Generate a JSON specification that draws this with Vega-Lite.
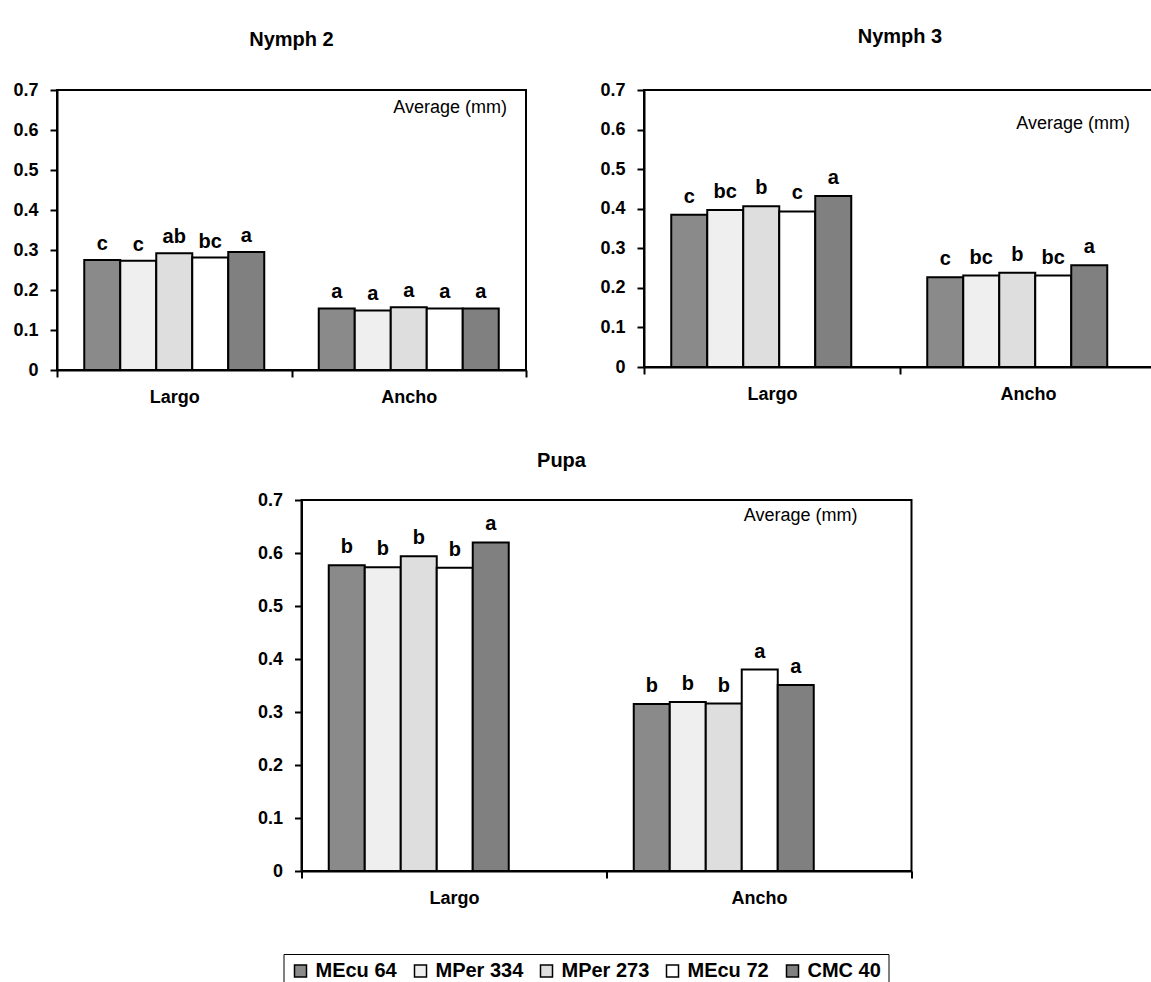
{
  "$schema": "https://vega.github.io/schema/vega-lite/v6.json",
  "background": "white",
  "padding": {"left": 11, "top": 26, "right": 0, "bottom": 0},
  "datasets": {
    "bars": [
      {"stage": "Nymph 2", "dim": "Largo", "series": "MEcu 64", "v": 0.275, "sig": "c"},
      {"stage": "Nymph 2", "dim": "Largo", "series": "MPer 334", "v": 0.273, "sig": "c"},
      {"stage": "Nymph 2", "dim": "Largo", "series": "MPer 273", "v": 0.292, "sig": "ab"},
      {"stage": "Nymph 2", "dim": "Largo", "series": "MEcu 72", "v": 0.281, "sig": "bc"},
      {"stage": "Nymph 2", "dim": "Largo", "series": "CMC 40", "v": 0.295, "sig": "a"},
      {"stage": "Nymph 2", "dim": "Ancho", "series": "MEcu 64", "v": 0.154, "sig": "a"},
      {"stage": "Nymph 2", "dim": "Ancho", "series": "MPer 334", "v": 0.149, "sig": "a"},
      {"stage": "Nymph 2", "dim": "Ancho", "series": "MPer 273", "v": 0.157, "sig": "a"},
      {"stage": "Nymph 2", "dim": "Ancho", "series": "MEcu 72", "v": 0.154, "sig": "a"},
      {"stage": "Nymph 2", "dim": "Ancho", "series": "CMC 40", "v": 0.154, "sig": "a"},
      {"stage": "Nymph 3", "dim": "Largo", "series": "MEcu 64", "v": 0.385, "sig": "c"},
      {"stage": "Nymph 3", "dim": "Largo", "series": "MPer 334", "v": 0.397, "sig": "bc"},
      {"stage": "Nymph 3", "dim": "Largo", "series": "MPer 273", "v": 0.406, "sig": "b"},
      {"stage": "Nymph 3", "dim": "Largo", "series": "MEcu 72", "v": 0.393, "sig": "c"},
      {"stage": "Nymph 3", "dim": "Largo", "series": "CMC 40", "v": 0.432, "sig": "a"},
      {"stage": "Nymph 3", "dim": "Ancho", "series": "MEcu 64", "v": 0.227, "sig": "c"},
      {"stage": "Nymph 3", "dim": "Ancho", "series": "MPer 334", "v": 0.231, "sig": "bc"},
      {"stage": "Nymph 3", "dim": "Ancho", "series": "MPer 273", "v": 0.238, "sig": "b"},
      {"stage": "Nymph 3", "dim": "Ancho", "series": "MEcu 72", "v": 0.231, "sig": "bc"},
      {"stage": "Nymph 3", "dim": "Ancho", "series": "CMC 40", "v": 0.257, "sig": "a"},
      {"stage": "Pupa", "dim": "Largo", "series": "MEcu 64", "v": 0.577, "sig": "b"},
      {"stage": "Pupa", "dim": "Largo", "series": "MPer 334", "v": 0.573, "sig": "b"},
      {"stage": "Pupa", "dim": "Largo", "series": "MPer 273", "v": 0.594, "sig": "b"},
      {"stage": "Pupa", "dim": "Largo", "series": "MEcu 72", "v": 0.572, "sig": "b"},
      {"stage": "Pupa", "dim": "Largo", "series": "CMC 40", "v": 0.62, "sig": "a"},
      {"stage": "Pupa", "dim": "Ancho", "series": "MEcu 64", "v": 0.315, "sig": "b"},
      {"stage": "Pupa", "dim": "Ancho", "series": "MPer 334", "v": 0.319, "sig": "b"},
      {"stage": "Pupa", "dim": "Ancho", "series": "MPer 273", "v": 0.316, "sig": "b"},
      {"stage": "Pupa", "dim": "Ancho", "series": "MEcu 72", "v": 0.38, "sig": "a"},
      {"stage": "Pupa", "dim": "Ancho", "series": "CMC 40", "v": 0.351, "sig": "a"}
    ],
    "notes": [
      {"stage": "Nymph 2", "dim": "Ancho", "v": 0.655, "note": "Average (mm)"},
      {"stage": "Nymph 3", "dim": "Ancho", "v": 0.615, "note": "Average (mm)"},
      {"stage": "Pupa", "dim": "Ancho", "v": 0.67, "note": "Average (mm)"}
    ]
  },
  "config": {
    "font": "Liberation Sans",
    "view": {"stroke": "black", "strokeWidth": 2},
    "axis": {
      "domainColor": "black", "domainWidth": 2, "tickColor": "black", "tickWidth": 2, "tickSize": 7,
      "labelFont": "Liberation Sans", "labelFontWeight": "bold", "labelFontSize": 18, "labelColor": "black",
      "grid": false, "title": null
    },
    "axisY": {"labelPadding": 12, "labelOverlap": false},
    "axisX": {"labelAngle": 0, "tickBand": "extent", "labelPadding": 11},
    "title": {"font": "Liberation Sans", "fontSize": 20, "fontWeight": "bold", "color": "black", "anchor": "middle"},
    "text": {"font": "Liberation Sans", "color": "black"}
  },
  "resolve": {"scale": {"color": "independent"}, "legend": {"color": "independent"}},
  "spacing": 43,
  "center": true,
  "vconcat": [
    {
      "spacing": 70,
      "hconcat": [
        {
          "title": {"text": "Nymph 2", "offset": 31},
          "width": 469, "height": 280,
          "encoding": {
            "x": {"field": "dim", "type": "nominal", "sort": ["Largo", "Ancho"], "scale": {"domain": ["Largo", "Ancho"], "paddingInner": 0, "paddingOuter": 0}},
            "y": {"field": "v", "type": "quantitative", "scale": {"domain": [0, 0.7], "nice": false}, "axis": {"values": [0, 0.1, 0.2, 0.3, 0.4, 0.5, 0.6, 0.7], "tickCount": 8, "format": "~g"}}
          },
          "layer": [
            {
              "data": {"name": "bars"},
              "transform": [{"filter": "datum.stage === 'Nymph 2'"}],
              "mark": {"type": "bar", "stroke": "black", "strokeWidth": 2},
              "encoding": {
                "xOffset": {"field": "series", "type": "nominal", "scale": {"domain": ["MEcu 64", "MPer 334", "MPer 273", "MEcu 72", "CMC 40"], "paddingInner": 0, "paddingOuter": 0.757}},
                "color": {"field": "series", "type": "nominal", "scale": {"domain": ["MEcu 64", "MPer 334", "MPer 273", "MEcu 72", "CMC 40"], "range": ["#8a8a8a", "#efefef", "#dedede", "#ffffff", "#808080"]}, "legend": null}
              }
            },
            {
              "data": {"name": "bars"},
              "transform": [{"filter": "datum.stage === 'Nymph 2'"}],
              "mark": {"type": "text", "baseline": "alphabetic", "dy": -10, "fontSize": 20, "fontWeight": "bold"},
              "encoding": {
                "xOffset": {"field": "series", "type": "nominal"},
                "text": {"field": "sig"}
              }
            },
            {
              "data": {"name": "notes"},
              "transform": [{"filter": "datum.stage === 'Nymph 2'"}],
              "mark": {"type": "text", "align": "right", "baseline": "middle", "fontSize": 18, "dx": -19},
              "encoding": {
                "x": {"field": "dim", "type": "nominal", "bandPosition": 1},
                "text": {"field": "note"}
              }
            }
          ]
        },
        {
          "title": {"text": "Nymph 3", "offset": 34},
          "width": 512, "height": 277,
          "encoding": {
            "x": {"field": "dim", "type": "nominal", "sort": ["Largo", "Ancho"], "scale": {"domain": ["Largo", "Ancho"], "paddingInner": 0, "paddingOuter": 0}},
            "y": {"field": "v", "type": "quantitative", "scale": {"domain": [0, 0.7], "nice": false}, "axis": {"values": [0, 0.1, 0.2, 0.3, 0.4, 0.5, 0.6, 0.7], "tickCount": 8, "format": "~g"}}
          },
          "layer": [
            {
              "data": {"name": "bars"},
              "transform": [{"filter": "datum.stage === 'Nymph 3'"}],
              "mark": {"type": "bar", "stroke": "black", "strokeWidth": 2},
              "encoding": {
                "xOffset": {"field": "series", "type": "nominal", "scale": {"domain": ["MEcu 64", "MPer 334", "MPer 273", "MEcu 72", "CMC 40"], "paddingInner": 0, "paddingOuter": 0.7}},
                "color": {"field": "series", "type": "nominal", "scale": {"domain": ["MEcu 64", "MPer 334", "MPer 273", "MEcu 72", "CMC 40"], "range": ["#8a8a8a", "#efefef", "#dedede", "#ffffff", "#808080"]}, "legend": null}
              }
            },
            {
              "data": {"name": "bars"},
              "transform": [{"filter": "datum.stage === 'Nymph 3'"}],
              "mark": {"type": "text", "baseline": "alphabetic", "dy": -12, "fontSize": 20, "fontWeight": "bold"},
              "encoding": {
                "xOffset": {"field": "series", "type": "nominal"},
                "text": {"field": "sig"}
              }
            },
            {
              "data": {"name": "notes"},
              "transform": [{"filter": "datum.stage === 'Nymph 3'"}],
              "mark": {"type": "text", "align": "right", "baseline": "middle", "fontSize": 18, "dx": -26},
              "encoding": {
                "x": {"field": "dim", "type": "nominal", "bandPosition": 1},
                "text": {"field": "note"}
              }
            }
          ]
        }
      ]
    },
    {
      "title": {"text": "Pupa", "offset": 20, "dx": -45},
      "width": 610, "height": 371,
      "encoding": {
        "x": {"field": "dim", "type": "nominal", "sort": ["Largo", "Ancho"], "scale": {"domain": ["Largo", "Ancho"], "paddingInner": 0, "paddingOuter": 0}},
        "y": {"field": "v", "type": "quantitative", "scale": {"domain": [0, 0.7], "nice": false}, "axis": {"values": [0, 0.1, 0.2, 0.3, 0.4, 0.5, 0.6, 0.7], "tickCount": 8, "format": "~g"}}
      },
      "layer": [
        {
          "data": {"name": "bars"},
          "transform": [{"filter": "datum.stage === 'Pupa'"}],
          "mark": {"type": "bar", "stroke": "black", "strokeWidth": 2},
          "encoding": {
            "xOffset": {"field": "series", "type": "nominal", "scale": {"domain": ["MEcu 64", "MPer 334", "MPer 273", "MEcu 72", "CMC 40"], "paddingInner": 0, "paddingOuter": 0.745}},
            "color": {
              "field": "series", "type": "nominal",
              "scale": {"domain": ["MEcu 64", "MPer 334", "MPer 273", "MEcu 72", "CMC 40"], "range": ["#8a8a8a", "#efefef", "#dedede", "#ffffff", "#808080"]},
              "legend": {
                "title": null, "orient": "none", "legendX": -18, "legendY": 454, "direction": "horizontal",
                "symbolType": "square", "symbolSize": 144, "symbolStrokeColor": "black", "symbolStrokeWidth": 1.5, "symbolOpacity": 1,
                "labelFont": "Liberation Sans", "labelFontSize": 20, "labelFontWeight": "bold", "labelColor": "black",
                "labelOffset": 5, "columnPadding": 13, "padding": 7, "strokeColor": "black"
              }
            }
          }
        },
        {
          "data": {"name": "bars"},
          "transform": [{"filter": "datum.stage === 'Pupa'"}],
          "mark": {"type": "text", "baseline": "alphabetic", "dy": -12, "fontSize": 20, "fontWeight": "bold"},
          "encoding": {
            "xOffset": {"field": "series", "type": "nominal"},
            "text": {"field": "sig"}
          }
        },
        {
          "data": {"name": "notes"},
          "transform": [{"filter": "datum.stage === 'Pupa'"}],
          "mark": {"type": "text", "align": "right", "baseline": "middle", "fontSize": 18, "dx": -54},
          "encoding": {
            "x": {"field": "dim", "type": "nominal", "bandPosition": 1},
            "text": {"field": "note"}
          }
        }
      ]
    }
  ]
}
